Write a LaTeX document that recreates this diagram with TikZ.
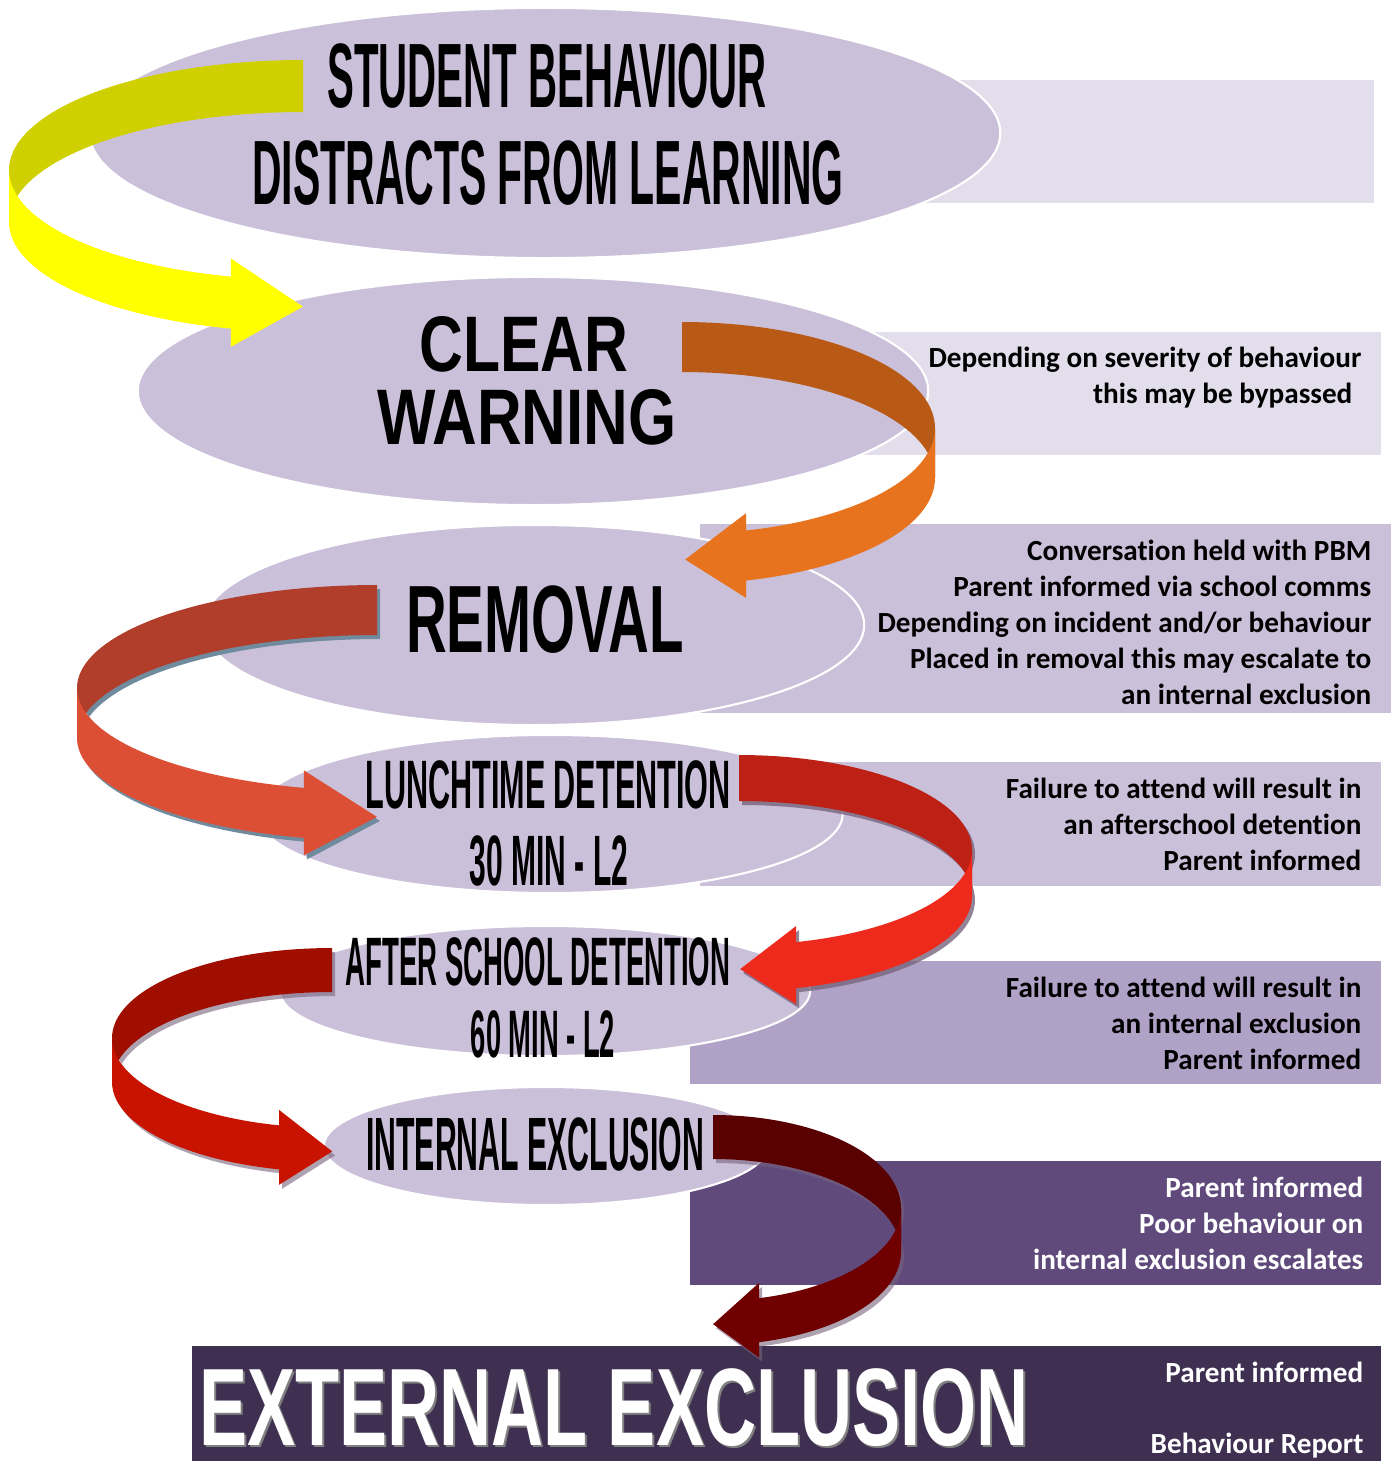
\documentclass[tikz,border=0pt]{standalone}
\usepackage{fontspec}
\usepackage{graphicx}
\setmainfont[Ligatures=NoCommon]{Carlito}
\newfontfamily\headfont{Liberation Sans}
\usetikzlibrary{shapes.geometric}

\definecolor{stagefill}{RGB}{203,192,217}
\definecolor{paleback}{RGB}{227,222,235}
\definecolor{midback}{RGB}{176,161,199}
\definecolor{darkback}{RGB}{95,74,123}
\definecolor{deepback}{RGB}{63,48,82}
% ribbon colours
\definecolor{yellowback}{RGB}{208,208,0}
\definecolor{yellowfront}{RGB}{255,255,0}
\definecolor{orangeback}{RGB}{184,90,21}
\definecolor{orangefront}{RGB}{232,115,30}
\definecolor{brickback}{RGB}{177,62,42}
\definecolor{brickfront}{RGB}{221,79,53}
\definecolor{redback}{RGB}{189,32,21}
\definecolor{redfront}{RGB}{238,42,28}
\definecolor{crimsonback}{RGB}{160,14,0}
\definecolor{crimsonfront}{RGB}{200,19,0}
\definecolor{maroonback}{RGB}{89,0,0}
\definecolor{maroonfront}{RGB}{112,0,0}
\definecolor{bluegrey}{RGB}{112,138,158}
\definecolor{mauvegrey}{RGB}{120,100,125}

\tikzset{
  stage/.style={ellipse, fill=stagefill, draw=white, line width=0.6pt, inner sep=0pt},
  head/.style={anchor=base, inner sep=0pt, font=\headfont\bfseries},
  note/.style={anchor=base east, inner sep=0pt, font=\bfseries\fontsize{8.3}{10}\selectfont},
  yellowshade/.style={fill opacity=0},
  orangeshade/.style={fill opacity=0},
  brickshade/.style={fill=bluegrey},
  redshade/.style={fill=mauvegrey, fill opacity=0.8},
  crimsonshade/.style={fill=mauvegrey, fill opacity=0.6},
  maroonshade/.style={fill=mauvegrey, fill opacity=0.6}
}

\newcommand{\headtext}[3]{\fontsize{#1}{#1}\selectfont\scalebox{#2}[1]{#3}}

% turning arrow: #1,#2 centre, #3,#4 radii, #5 band height,
% #6 side angle (180 left, 360 right), #7 end angle, #8 head length, #9 colour
\newcommand{\ribbon}[9]{%
  \fill[#9shade, shift={(3,4)}] plot[domain=270:#7,samples=60] ({#1+#3*cos(\x)},{#2+#4*sin(\x)})
    -- ++(0,{-0.35*#5}) -- ++({#8},{0.85*#5+4}) -- ++({-(#8)},{0.85*#5-4})
    -- plot[domain=#7:270,samples=60] ({#1+#3*cos(\x)},{#2+#5+#4*sin(\x)}) -- cycle;
  \fill[#9back] plot[domain=270:#6,samples=40] ({#1+#3*cos(\x)},{#2+#4*sin(\x)})
    -- plot[domain=#6:270,samples=40] ({#1+#3*cos(\x)},{#2+#5+#4*sin(\x)}) -- cycle;
  \fill[#9front] plot[domain=#6:#7,samples=40] ({#1+#3*cos(\x)},{#2+#4*sin(\x)})
    -- ++(0,{-0.35*#5}) -- ++({#8},{0.85*#5+4}) -- ++({-(#8)},{0.85*#5-4})
    -- plot[domain=#7:#6,samples=40] ({#1+#3*cos(\x)},{#2+#5+#4*sin(\x)}) -- cycle;
}

\begin{document}
\begin{tikzpicture}[x=0.01cm, y=-0.01cm]
  \useasboundingbox (0,0) rectangle (1394,1461);

  % Side boxes
  \fill[paleback] (900,80) rectangle (1374,203);
  \fill[paleback] (863,332) rectangle (1381,455);
  \fill[stagefill] (700,524) rectangle (1391,713);
  \fill[stagefill] (700,762) rectangle (1381,886);
  \fill[midback] (690,961) rectangle (1381,1084);
  \fill[darkback] (690,1161) rectangle (1381,1285);
  \fill[deepback] (192,1346) rectangle (1381,1461);

  % Stages
  \node[stage, minimum width=9.1cm, minimum height=2.5cm] (behaviour) at (545,133) {};
  \node[stage, minimum width=7.9cm, minimum height=2.28cm] (warning) at (533,391) {};
  \node[stage, minimum width=6.6cm, minimum height=2cm] (removal) at (534,625) {};
  \node[stage, minimum width=5.85cm, minimum height=1.58cm] (lunchtime) at (550,814) {};
  \node[stage, minimum width=5.3cm, minimum height=1.3cm] (afterschool) at (545,991) {};
  \node[stage, minimum width=4.44cm, minimum height=1.18cm] (internal) at (546,1146) {};

  % Stage titles
  \node[head] (stu1) at (547,108) {\headtext{26}{0.44}{STUDENT BEHAVIOUR}};
  \node[head] (stu2) at (548,205) {\headtext{26}{0.448}{DISTRACTS FROM LEARNING}};
  \node[head] (warn1) at (524,372) {\headtext{22.4}{0.77}{CLEAR}};
  \node[head] (warn2) at (527,445) {\headtext{22.4}{0.785}{WARNING}};
  \node[head] (rem) at (545,652) {\headtext{27.2}{0.59}{REMOVAL}};
  \node[head] (lunch1) at (548,808) {\headtext{19.5}{0.446}{LUNCHTIME DETENTION}};
  \node[head] (lunch2) at (549,885) {\headtext{20.3}{0.42}{30 MIN - L2}};
  \node[head] (after1) at (538,985) {\headtext{19.5}{0.402}{AFTER SCHOOL DETENTION}};
  \node[head] (after2) at (543,1057) {\headtext{19.1}{0.407}{60 MIN - L2}};
  \node[head] (intern) at (535,1170) {\headtext{21.5}{0.40}{INTERNAL EXCLUSION}};
  \node[head, text=gray] (externshade) at (616,1447) {\headtext{31.3}{0.655}{EXTERNAL EXCLUSION}};
  \node[head, text=white] (extern) at (614,1445) {\headtext{31.3}{0.655}{EXTERNAL EXCLUSION}};

  % Turning arrows
  \ribbon{303}{170}{294}{110}{52}{180}{104.2}{72}{yellow}
  \ribbon{682}{428}{253}{106}{50}{360}{435.3}{-61}{orange}
  \ribbon{377}{688}{300}{103}{50}{180}{104.1}{73}{brick}
  \ribbon{739}{850}{233}{95}{46}{360}{435.8}{-56}{red}
  \ribbon{332}{1038}{220}{90}{44}{180}{103.9}{53}{crimson}
  \ribbon{713}{1208}{188}{93}{44}{360}{435.8}{-46}{maroon}

  % Notes
  \node[note] (bypass1) at (1362,368) {Depending on severity of behaviour};
  \node[note] (bypass2) at (1353,403) {this may be bypassed};
  \foreach \txt [count=\i] in {Conversation held with PBM, Parent informed via school comms,
      Depending on incident and/or behaviour, Placed in removal this may escalate to, an internal exclusion}
    \node[note] (remnote\i) at (1372,524+36*\i) {\txt};
  \foreach \txt [count=\i] in {Failure to attend will result in, an afterschool detention, Parent informed}
    \node[note] (lunchnote\i) at (1362,762+36*\i) {\txt};
  \foreach \txt [count=\i] in {Failure to attend will result in, an internal exclusion, Parent informed}
    \node[note] (afternote\i) at (1362,961+36*\i) {\txt};
  \foreach \txt [count=\i] in {Parent informed, Poor behaviour on, internal exclusion escalates}
    \node[note, text=white] (internnote\i) at (1364,1161+36*\i) {\txt};
  \node[note, text=white] (externnote1) at (1364,1382) {Parent informed};
  \node[note, text=white] (externnote2) at (1364,1453) {Behaviour Report};
\end{tikzpicture}
\end{document}
